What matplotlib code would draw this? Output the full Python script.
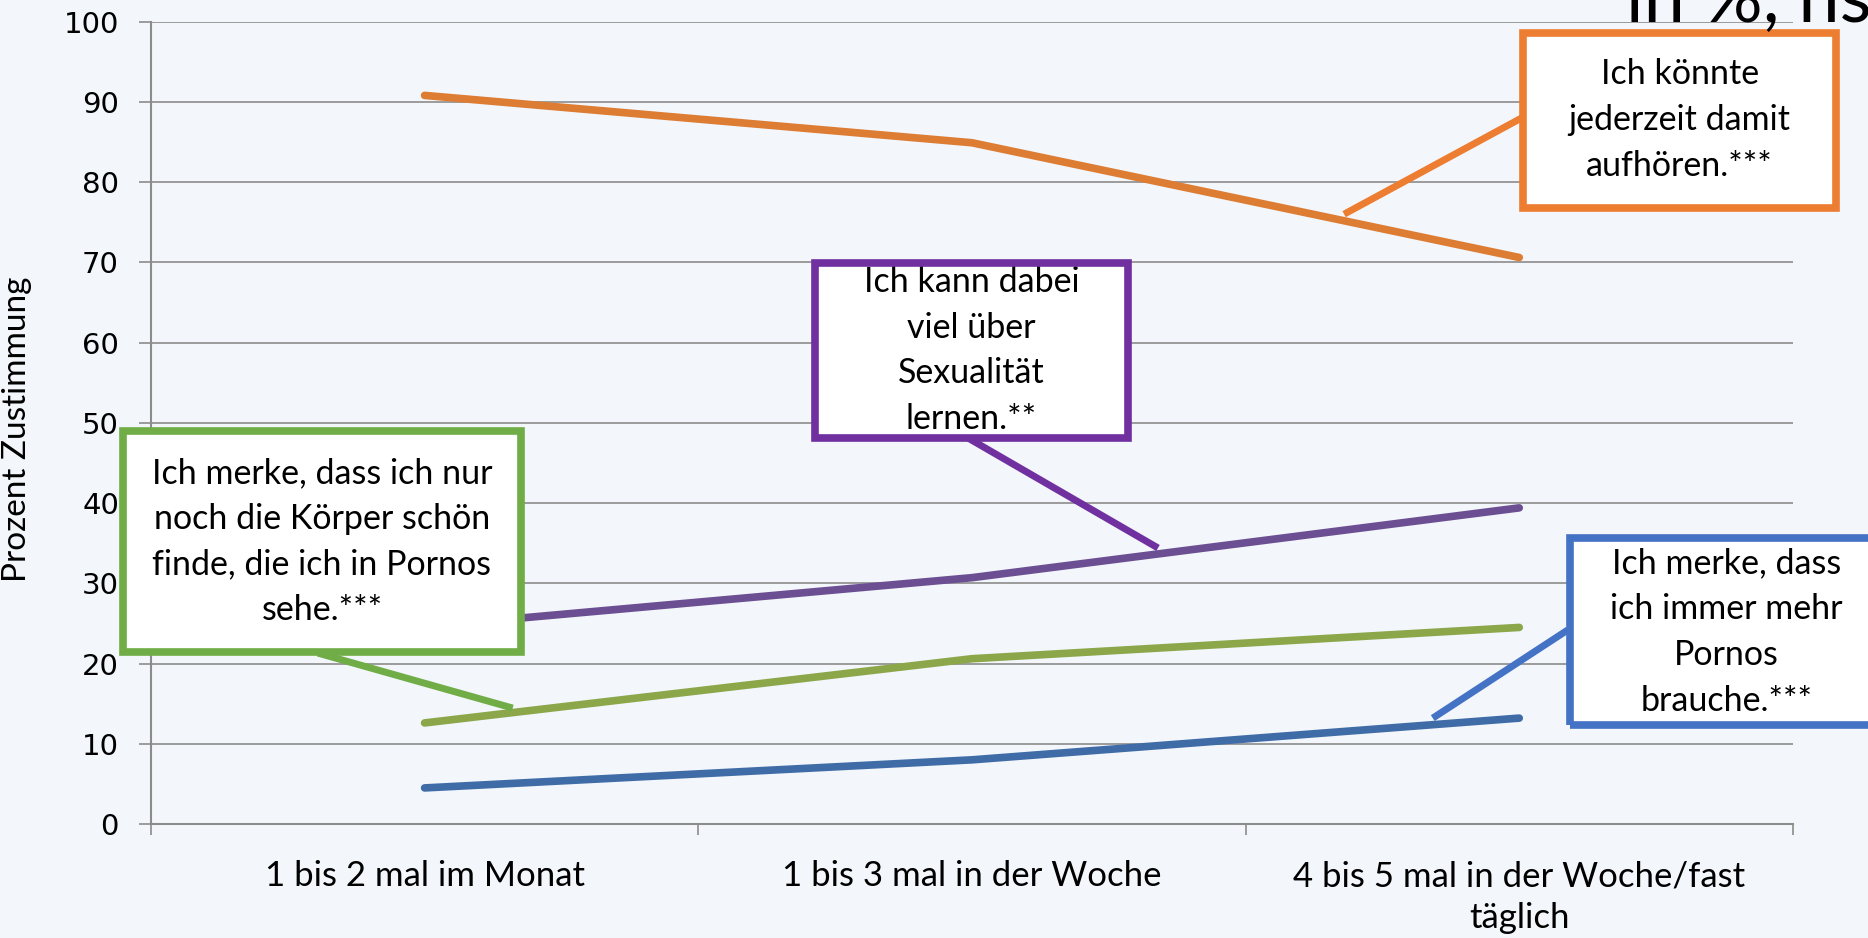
"""
Zustimmung nach Pornokonsum-Haeufigkeit - Liniendiagramm mit Callouts
"""
import matplotlib
matplotlib.use('Agg')
import matplotlib.pyplot as plt
from matplotlib.patches import Rectangle

BG = '#F3F6FB'
GRID = '#8C8C8C'
FONT = ['Lato', 'DejaVu Sans']

categories = ['1 bis 2 mal im Monat', '1 bis 3 mal in der Woche',
              '4 bis 5 mal in der Woche/fast\ntäglich']
aufhoeren = [90.8, 84.9, 70.6]      # orange
lernen = [24.6, 30.7, 39.4]         # lila
koerper = [12.6, 20.6, 24.5]        # gruen
mehr_pornos = [4.5, 8.0, 13.2]      # blau
yticks = list(range(0, 101, 10))

series = [
    (aufhoeren, '#DD7C33'),
    (lernen, '#6B4F92'),
    (koerper, '#8BA74A'),
    (mehr_pornos, '#3F6CA7'),
]

# callouts: text, border colour, box (x0, x1, y0, y1) in data units, connector (x0, y0, x1, y1)
callouts = [
    ('Ich könnte\njederzeit damit\naufhören.***', '#ED7D31',
     (2.007, 2.579, 76.8, 98.6), (1.680, 76.0, 2.010, 88.2)),
    ('Ich kann dabei\nviel über\nSexualität\nlernen.**', '#7030A0',
     (0.713, 1.285, 48.1, 69.9), (0.993, 48.1, 1.340, 34.4)),
    ('Ich merke, dass ich nur\nnoch die Körper schön\nfinde, die ich in Pornos\nsehe.***', '#70AD47',
     (-0.551, 0.176, 21.4, 49.0), (-0.195, 21.3, 0.161, 14.45)),
    ('Ich merke, dass\nich immer mehr\nPornos\nbrauche.***', '#4472C4',
     (2.093, 2.663, 12.3, 35.6), (1.842, 13.2, 2.089, 24.2)),
]

fig = plt.figure(figsize=(18.68, 9.38), dpi=100, facecolor=BG)
ax = fig.add_axes([0.0808, 0.1215, 0.8790, 0.8555])
ax.set_facecolor(BG)

x = list(range(len(categories)))
for vals, col in series:
    ax.plot(x, vals, color=col, linewidth=5.5, solid_capstyle='round', zorder=3)

for text, col, (bx0, bx1, by0, by1), (lx0, ly0, lx1, ly1) in callouts:
    ax.plot([lx0, lx1], [ly0, ly1], color=col, linewidth=5, solid_capstyle='butt',
            zorder=4, clip_on=False)
    ax.add_patch(Rectangle((bx0, by0), bx1 - bx0, by1 - by0, facecolor='white',
                           edgecolor='none', zorder=5, clip_on=False))
    ax.text((bx0 + bx1) / 2, (by0 + by1) / 2, text, ha='center', va='center',
            fontsize=24.5, family=FONT, linespacing=1.53, zorder=6, clip_on=False)
    ax.add_patch(Rectangle((bx0, by0), bx1 - bx0, by1 - by0, facecolor='none',
                           edgecolor=col, linewidth=5.5, zorder=7, clip_on=False,
                           joinstyle='miter'))

ax.set_xlim(-0.5, 2.5)
ax.set_ylim(0, 100)
ax.set_yticks(yticks)
ax.set_yticklabels([str(t) for t in yticks], fontsize=21, family='DejaVu Sans')
ax.tick_params(axis='y', length=9, width=1.2, color=GRID, pad=14)

ax.set_xticks([-0.5, 0.5, 1.5, 2.5])
ax.set_xticklabels([])
ax.set_xticks(x, minor=True)
ax.set_xticklabels(categories, minor=True, fontsize=25, family=FONT, linespacing=1.37)
ax.tick_params(axis='x', which='major', length=8, width=1.2, color=GRID)
ax.tick_params(axis='x', which='minor', length=0, pad=26)

ax.grid(axis='y', color=GRID, linewidth=1.2, zorder=1)
ax.set_axisbelow(True)
for s in ['top', 'right']:
    ax.spines[s].set_visible(False)
for s in ['left', 'bottom']:
    ax.spines[s].set_color(GRID)
    ax.spines[s].set_linewidth(1.5)

fig.text(17 / 1868, 1 - 429 / 938, 'Prozent Zustimmung', rotation=90,
         ha='center', va='center', fontsize=24, family=FONT)

# grosser, oben abgeschnittener Titeltext
fig.text(1626 / 1868, 1 - 22 / 938, 'in %, ns', ha='left', va='baseline',
         fontsize=53, family=FONT)

fig.savefig('out.png', dpi=100, facecolor=BG)
